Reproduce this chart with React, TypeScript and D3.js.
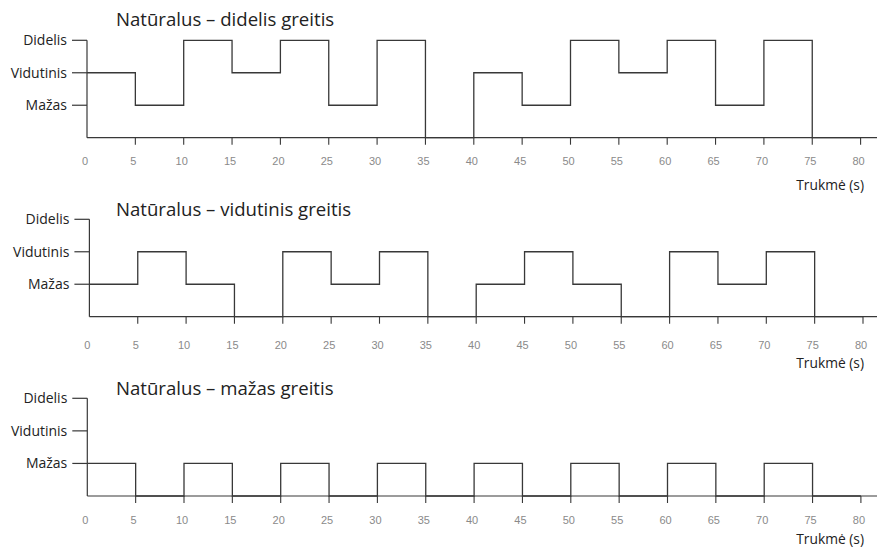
import React from "react";
import * as d3 from "d3";

// ---- data ----
const segmentStarts = [0, 5, 10, 15, 20, 25, 30, 35, 40, 45, 50, 55, 60, 65, 70, 75];
// levels: 0 = none, 1 = Mažas, 2 = Vidutinis, 3 = Didelis
const seriesDidelis = [2, 1, 3, 2, 3, 1, 3, 0, 2, 1, 3, 2, 3, 1, 3, 0];
const seriesVidutinis = [1, 2, 1, 0, 2, 1, 2, 0, 1, 2, 1, 0, 2, 1, 2, 0];
const seriesMazas = [1, 0, 1, 0, 1, 0, 1, 0, 1, 0, 1, 0, 1, 0, 1, 0];
const levelLabels = ["Mažas", "Vidutinis", "Didelis"];
const levelValues = [1, 2, 3];
const xTicks = [0, 5, 10, 15, 20, 25, 30, 35, 40, 45, 50, 55, 60, 65, 70, 75, 80];
const titles = [
  "Natūralus – didelis greitis",
  "Natūralus – vidutinis greitis",
  "Natūralus – mažas greitis",
];
const xLabel = "Trukmė (s)";
const xMax = 80;

const W = 879;
const H = 548;

const panels = [
  { series: seriesDidelis, title: titles[0], x0: 87, top: 40.3, base: 137.7, titleY: 26, labelY: 165, axisTitleY: 189.5 },
  { series: seriesVidutinis, title: titles[1], x0: 89.4, top: 219.3, base: 316.7, titleY: 216, labelY: 349, axisTitleY: 368 },
  { series: seriesMazas, title: titles[2], x0: 87.3, top: 398.3, base: 496, titleY: 395, labelY: 524, axisTitleY: 544 },
];

const stroke = "#383838";
const fontMain = "'Open Sans', 'Noto Sans', sans-serif";
const fontTick = "'Liberation Sans', Arial, sans-serif";

function Panel({ p }: { p: (typeof panels)[number] }) {
  const x = d3.scaleLinear().domain([0, xMax]).range([p.x0, p.x0 + 16 * 48.35]);
  const y = d3.scaleLinear().domain([0, 3]).range([p.base, p.top]);
  const pts: [number, number][] = segmentStarts.map((t, i) => [t, p.series[i]]);
  pts.push([xMax, 0]);
  const line = d3
    .line<[number, number]>()
    .x((d) => x(d[0]))
    .y((d) => y(d[1]))
    .curve(d3.curveStepAfter);
  return (
    <g>
      <text x={116} y={p.titleY} fontFamily={fontMain} fontSize={18.6} fill="#222">
        {p.title}
      </text>
      {/* y axis */}
      <line x1={x(0)} x2={x(0)} y1={y(3)} y2={y(0)} stroke={stroke} strokeWidth={1.2} />
      {levelValues.map((v, i) => (
        <g key={v}>
          <line x1={x(0) - 15} x2={x(0)} y1={y(v)} y2={y(v)} stroke={stroke} strokeWidth={1.2} />
          <text
            x={x(0) - 20}
            y={y(v)}
            dy="0.35em"
            textAnchor="end"
            fontFamily={fontMain}
            fontSize={14}
            fill="#222"
          >
            {levelLabels[i]}
          </text>
        </g>
      ))}
      {/* x axis */}
      <line x1={x(0)} x2={877} y1={y(0)} y2={y(0)} stroke={stroke} strokeWidth={1.2} />
      {xTicks.map((t) => (
        <g key={t}>
          {t > 0 && (
            <line x1={x(t)} x2={x(t)} y1={y(0)} y2={y(0) + 7} stroke={stroke} strokeWidth={1.1} />
          )}
          <text
            x={x(t) - 2}
            y={p.labelY}
            textAnchor="middle"
            fontFamily={fontTick}
            fontSize={11}
            fill="#8a8a8a"
          >
            {t}
          </text>
        </g>
      ))}
      <text x={864} y={p.axisTitleY} textAnchor="end" fontFamily={fontMain} fontSize={13.8} fill="#222">
        {xLabel}
      </text>
      <path d={line(pts) || ""} fill="none" stroke={stroke} strokeWidth={1.3} />
    </g>
  );
}

export default function App() {
  return (
    <svg
      width={W}
      height={H}
      style={{ position: "absolute", left: 0, top: 0, background: "#fff" }}
    >
      <rect width={W} height={H} fill="#fff" />
      {panels.map((p, i) => (
        <Panel key={i} p={p} />
      ))}
    </svg>
  );
}
